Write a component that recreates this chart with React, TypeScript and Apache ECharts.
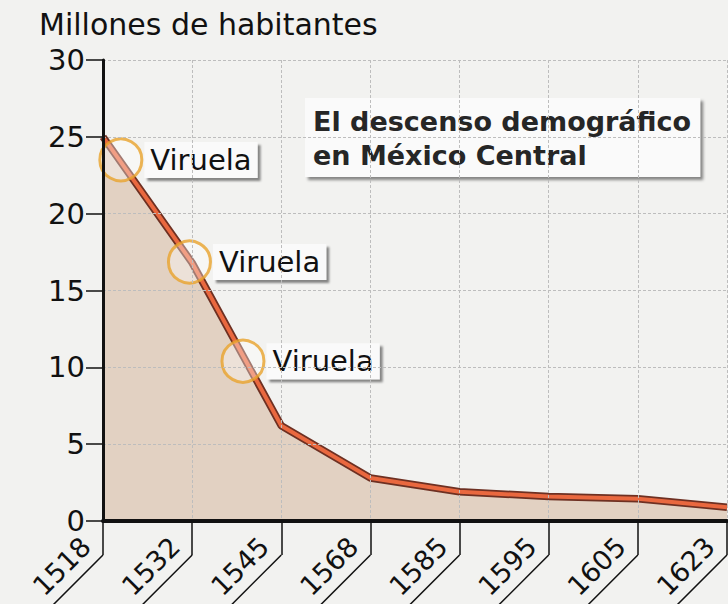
import React, { useEffect, useRef } from "react";
import * as echarts from "echarts";

const years = ["1518", "1532", "1545", "1568", "1585", "1595", "1605", "1623"];
const population = [25, 16.8, 6.2, 2.8, 1.9, 1.6, 1.45, 0.9];
const yTicks = { min: 0, max: 30, interval: 5 };
const epidemicPos = [0.2, 0.97, 1.57];
const epidemicVal = [23.5, 16.85, 10.4];
const epidemicLabels = ["Viruela", "Viruela", "Viruela"];
const yAxisTitle = "Millones de habitantes";
const chartTitle = "El descenso demográfico\nen México Central";

const FONT = "DejaVu Sans";
const INK = "#111111";

export default function App() {
  const ref = useRef<HTMLDivElement>(null);
  useEffect(() => {
    if (!ref.current) return;
    const chart = echarts.init(ref.current, null, { renderer: "svg" });
    const option: any = {
      animation: false,
      backgroundColor: "#f2f2f0",
      textStyle: { fontFamily: FONT },
      title: [
        {
          text: yAxisTitle,
          left: 39,
          top: 9,
          padding: 0,
          textStyle: { fontSize: 30, fontWeight: "normal", color: INK, fontFamily: FONT },
        },
        {
          text: chartTitle,
          left: 305,
          top: 98,
          padding: [6, 9, 5, 8],
          backgroundColor: "#fafafa",
          shadowColor: "rgba(0,0,0,0.45)",
          shadowOffsetX: 3,
          shadowOffsetY: 3,
          shadowBlur: 3,
          textStyle: { fontSize: 27, fontWeight: "bold", color: "#262626", lineHeight: 34, fontFamily: FONT },
        },
      ],
      grid: { left: 103, right: 1, top: 60, bottom: 83 },
      xAxis: [
        {
          type: "category",
          data: years,
          boundaryGap: false,
          axisLine: { lineStyle: { color: "#111", width: 4 } },
          axisTick: { length: 34, lineStyle: { color: "#111", width: 1.5 } },
          axisLabel: { show: false },
          splitLine: { show: true, lineStyle: { color: "#bdbdbd", type: [3, 2], width: 1 } },
          z: 10,
        },
        { type: "value", min: 0, max: years.length - 1, show: false },
      ],
      yAxis: {
        type: "value",
        min: yTicks.min,
        max: yTicks.max,
        interval: yTicks.interval,
        axisLine: { show: true, lineStyle: { color: "#111", width: 3 } },
        axisTick: { show: true, length: 17, lineStyle: { color: "#111", width: 1.5 } },
        axisLabel: { margin: 18, fontSize: 29, color: INK, fontFamily: FONT },
        splitLine: { lineStyle: { color: "#bdbdbd", type: [3, 2], width: 1 } },
        z: 10,
      },
      series: [
        {
          type: "line",
          data: population,
          symbol: "none",
          lineStyle: { color: "#6e3022", width: 7.5 },
          areaStyle: { color: "#e2d1c2", opacity: 1 },
          z: 2,
        },
        {
          type: "line",
          data: population,
          symbol: "none",
          lineStyle: { color: "#e9683f", width: 4 },
          z: 3,
        },
        {
          type: "scatter",
          xAxisIndex: 1,
          data: epidemicPos.map((x, i) => ({ name: epidemicLabels[i], value: [x, epidemicVal[i]] })),
          symbolSize: 42,
          itemStyle: { color: "rgba(255,255,255,0.45)", borderColor: "#e9a22c", borderWidth: 3 },
          label: {
            show: true,
            formatter: "{b}",
            position: "right",
            distance: 1,
            fontSize: 29,
            color: INK,
            opacity: 1,
            fontFamily: FONT,
            backgroundColor: "#fafafa",
            padding: [4, 6, 3, 6],
            shadowColor: "rgba(0,0,0,0.45)",
            shadowOffsetX: 3,
            shadowOffsetY: 3,
            shadowBlur: 2,
          },
          z: 5,
        },
      ],
    };
    chart.setOption(option);
    const y0 = chart.convertToPixel({ yAxisIndex: 0 }, 0) as number;
    const marks: any[] = [];
    years.forEach((year, i) => {
      const X = chart.convertToPixel({ xAxisIndex: 0 }, i) as number;
      marks.push({
        type: "line",
        shape: { x1: X, y1: y0 + 34, x2: X - 80, y2: y0 + 114 },
        style: { stroke: "#111", lineWidth: 1.5 },
        z: 20,
      });
      marks.push({
        type: "text",
        x: X - 17,
        y: y0 + 21,
        rotation: Math.PI / 4,
        style: {
          text: year,
          fontSize: 27,
          fontFamily: FONT,
          fill: INK,
          align: "right",
          verticalAlign: "middle",
        },
        z: 20,
      });
    });
    chart.setOption({ graphic: marks });
    return () => chart.dispose();
  }, []);
  return (
    <div
      ref={ref}
      style={{ position: "absolute", left: 0, top: 0, width: 728, height: 604 }}
    />
  );
}
